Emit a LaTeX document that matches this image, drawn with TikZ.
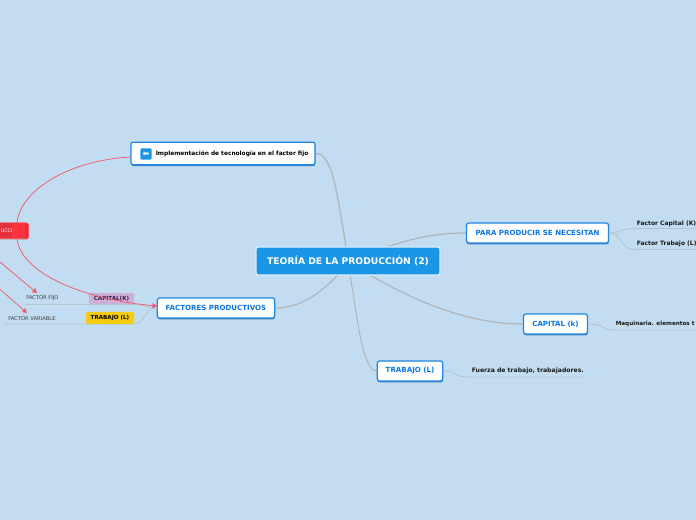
\documentclass[tikz,border=0pt]{standalone}
\usepackage{fontspec}
\setmainfont{DejaVu Sans}
\usetikzlibrary{arrows.meta,shadows}
\definecolor{bg}{HTML}{C2DDF1}
\definecolor{edge}{HTML}{B0B3B4}
\definecolor{sub}{HTML}{B6C4CE}
\definecolor{nodeblue}{HTML}{1F84E2}
\definecolor{shade}{HTML}{2F6FAE}
\definecolor{txtblue}{HTML}{0B78E6}
\definecolor{central}{HTML}{1B95E6}
\definecolor{redline}{HTML}{F0596B}
\definecolor{capfill}{HTML}{CDB0D8}
\definecolor{captxt}{HTML}{3A1A4A}
\definecolor{trfill}{HTML}{F5CB10}
\definecolor{redmid}{HTML}{FF3340}
\definecolor{redside}{HTML}{E4303E}
\tikzset{
  x=0.75pt,y=-0.75pt,
  mainbox/.style={draw=nodeblue,line width=0.9pt,fill=white,rounded corners=1.6pt,inner sep=0pt,
    font=\fontsize{5.3}{7}\selectfont\bfseries,text=txtblue,
    drop shadow={shadow xshift=0.2pt,shadow yshift=-1pt,fill=shade,opacity=0.85}},
  centerbox/.style={draw=white!85!central,line width=1pt,fill=central,rounded corners=1.6pt,inner sep=0pt,
    minimum width=138pt,minimum height=21pt,text=white,font=\fontsize{6.9}{8}\selectfont\bfseries},
  leaftxt/.style={inner sep=0pt,anchor=west,font=\fontsize{4.5}{6}\selectfont\bfseries,text=black!90},
  smalltxt/.style={inner sep=0pt,anchor=west,font=\fontsize{3.9}{5}\selectfont,text=black!75},
  pill/.style={rounded corners=1.2pt,inner sep=0pt,font=\fontsize{4.2}{5}\selectfont\bfseries},
  branch/.style={draw=edge,line width=0.85pt},
  twig/.style={draw=sub,line width=0.65pt},
  relation/.style={draw=redline,line width=0.55pt},
  relarrow/.style={relation,-{Triangle[length=3.4pt,width=3.8pt,fill=redline]}},
}
\begin{document}
\begin{tikzpicture}
\useasboundingbox (0,0) rectangle (696,520);
\clip (0,0) rectangle (696,520);
\fill[bg] (0,0) rectangle (696,520);

% coordinates for free ends
\coordinate (cA) at (347,252);
\coordinate (cB) at (387,247);
\coordinate (cC) at (370,275);
\coordinate (cD) at (350,275);
\coordinate (cE) at (338,275);
\coordinate (fk) at (636,228.5);
\coordinate (fkend) at (696,228.5);
\coordinate (ft) at (636,249.5);
\coordinate (ftend) at (696,249.5);
\coordinate (mq) at (616,330);
\coordinate (mqend) at (696,330);
\coordinate (ftr) at (471,377);
\coordinate (ftrend) at (586,377);
\coordinate (capU) at (134,304.5);
\coordinate (ffU) at (25,304.5);
\coordinate (trU) at (134,324);
\coordinate (fvU) at (4,324);
\coordinate (r1) at (-6,257);
\coordinate (r2) at (-6,284);
\coordinate (tipF) at (37,293);
\coordinate (tipV) at (27,313);
\coordinate (rTop) at (17,223);
\coordinate (rBot) at (17,239);
\coordinate (implR) at (131,157);
\coordinate (factR) at (157,306);

% branches from the root
\node[mainbox,minimum width=106.5pt,minimum height=15pt] (para) at (537.5,233) {PARA PRODUCIR SE NECESITAN};
\node[mainbox,minimum width=48pt,minimum height=15pt] (capital) at (555.5,324) {CAPITAL (k)};
\node[mainbox,minimum width=49pt,minimum height=15pt] (trabajo) at (410,371) {TRABAJO (L)};
\node[mainbox,minimum width=88pt,minimum height=15pt] (factores) at (216,308) {FACTORES PRODUCTIVOS};
\node[mainbox,minimum width=138pt,minimum height=17pt] (impl) at (223,153.5) {};
\node[fill=central,rounded corners=1pt,minimum size=8.6pt,inner sep=0pt,text=white,font=\fontsize{6}{6}\selectfont] (icon) at (146,154) {⬅};
\node[leaftxt,text=black,font=\fontsize{4.4}{6}\selectfont\bfseries] (impltxt) at (155.5,154) {Implementación de tecnología en el factor fijo};

\draw[branch] (impl.east) .. controls (333,153) and (337,195) .. (cA);
\draw[branch] (para.west) .. controls (430,233) and (405,241) .. (cB);
\draw[branch] (capital.west) .. controls (480,324) and (430,310) .. (cC);
\draw[branch,line width=0.7pt] (trabajo.west) .. controls (362,370) and (358,320) .. (cD);
\draw[branch] (factores.east) .. controls (300,308) and (318,295) .. (cE);
\node[centerbox] (root) at (348,261) {TEORÍA DE LA PRODUCCIÓN (2)};

% leaves
\node[leaftxt] (lfk) at (636.5,223.5) {Factor Capital (K)};
\node[leaftxt] (lft) at (636.5,243.5) {Factor Trabajo (L)};
\node[leaftxt,font=\fontsize{4.25}{6}\selectfont\bfseries] (lmq) at (615.5,324) {Maquinaria. elementos t};
\node[leaftxt,font=\fontsize{4.6}{6}\selectfont\bfseries] (lfu) at (471.5,371) {Fuerza de trabajo, trabajadores.};
\draw[twig] (para.east) .. controls (622,233) and (620,228.5) .. (fk) -- (fkend);
\draw[twig] (para.east) .. controls (624,233) and (618,249.5) .. (ft) -- (ftend);
\draw[twig] (capital.east) .. controls (606,324) and (600,330) .. (mq) -- (mqend);
\draw[twig] (trabajo.east) .. controls (460,371) and (450,377) .. (ftr) -- (ftrend);

% left twigs
\draw[twig] (factores.west) .. controls (148,308) and (143,304.5) .. (capU) -- (ffU);
\draw[twig] (factores.west) .. controls (143,308) and (146,324) .. (trU) -- (fvU);
\node[pill,fill=capfill,text=captxt,minimum width=34pt,minimum height=8.5pt] (capk) at (111.5,298.5) {CAPITAL(K)};
\node[pill,fill=trfill,text=black,minimum width=36pt,minimum height=9pt] (trl) at (110,318) {TRABAJO (L)};
\node[smalltxt] (ffijo) at (26,298.5) {FACTOR FIJO};
\node[smalltxt] (fvar) at (8,318.5) {FACTOR VARIABLE};

% red relations
\draw[relation] (implR) .. controls (70,160) and (20,190) .. (rTop);
\draw[relarrow] (rBot) .. controls (21,272) and (80,299) .. (factR);
\draw[relarrow] (r1) -- (tipF);
\draw[relarrow] (r2) -- (tipV);

% red node, running off the left edge
\fill[redside!80!white,rounded corners=2pt] (-30,222.5) rectangle (29,239.5);
\fill[redside] (-30,223.5) rectangle (12,238.5);
\fill[redside,rounded corners=1.5pt] (22,223.5) rectangle (28,238.5);
\fill[redmid] (12,223.5) rectangle (25,238.5);
\node[inner sep=0pt,anchor=west,text=white,font=\fontsize{3.6}{5}\selectfont] (red) at (0.5,231) {UCCI};
\end{tikzpicture}
\end{document}
